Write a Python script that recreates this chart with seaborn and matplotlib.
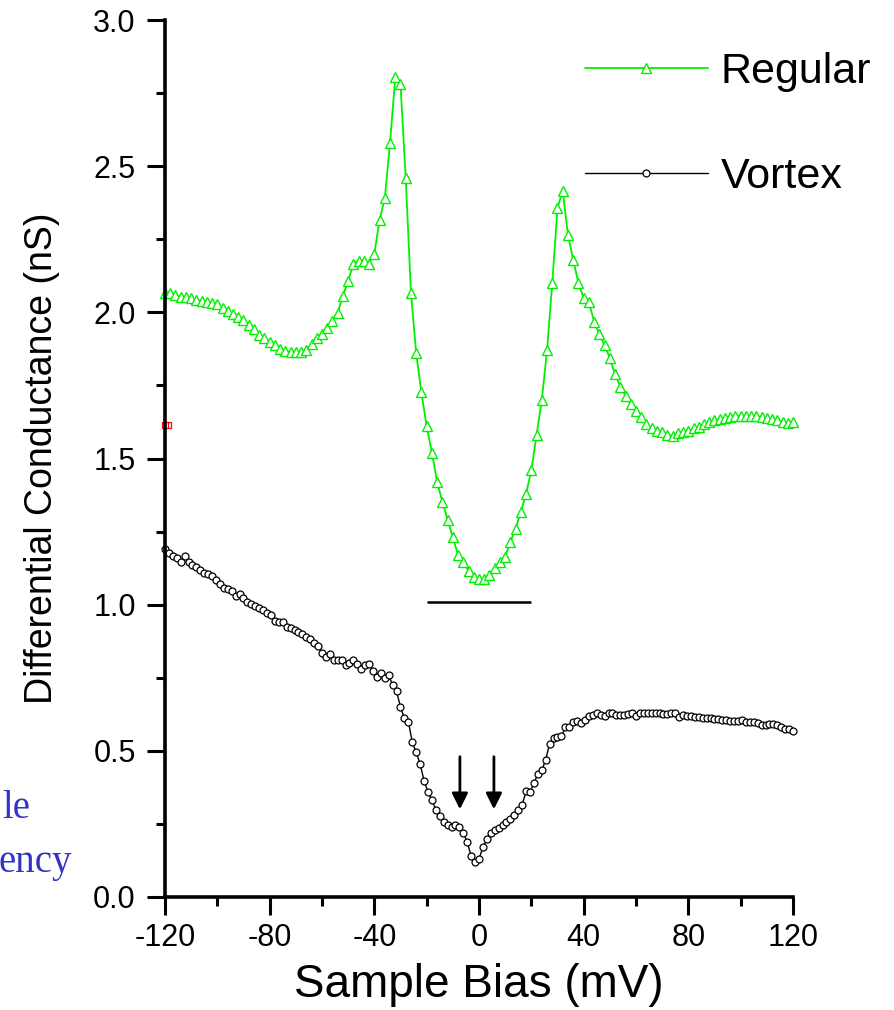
import numpy as np
import matplotlib
matplotlib.use("Agg")
import matplotlib.pyplot as plt
import seaborn as sns

# Regular spectrum, sampled every 2 mV from -120 to 120 mV
regular_g = [
    2.067, 2.067, 2.059, 2.051, 2.051, 2.048, 2.042, 2.039, 2.036, 2.031,
    2.027, 2.016, 2.005, 1.994, 1.985, 1.974, 1.957, 1.942, 1.922, 1.911,
    1.900, 1.888, 1.875, 1.868, 1.865, 1.865, 1.865, 1.871, 1.890, 1.911,
    1.925, 1.945, 1.970, 1.999, 2.056, 2.108, 2.167, 2.177, 2.177, 2.167,
    2.200, 2.316, 2.390, 2.580, 2.804, 2.780, 2.458, 2.065, 1.860, 1.726,
    1.610, 1.520, 1.420, 1.352, 1.290, 1.230, 1.170, 1.145, 1.116, 1.094,
    1.088,
    1.088, 1.100, 1.124, 1.145, 1.164, 1.215, 1.260, 1.318, 1.380, 1.460,
    1.580, 1.700, 1.870, 2.100, 2.358, 2.415, 2.265, 2.180, 2.100, 2.048,
    2.034, 1.968, 1.925, 1.888, 1.843, 1.788, 1.746, 1.714, 1.685, 1.664,
    1.643, 1.617, 1.603, 1.594, 1.590, 1.580, 1.577, 1.586, 1.592, 1.594,
    1.603, 1.609, 1.617, 1.626, 1.632, 1.635, 1.637, 1.643, 1.646, 1.646,
    1.646, 1.645, 1.645, 1.642, 1.638, 1.634, 1.630, 1.626, 1.622, 1.626,
]

# Vortex spectrum, sampled every 1.5 mV from -120 to 120 mV
vortex_g = [
    1.189, 1.178, 1.166, 1.159, 1.147, 1.166, 1.145, 1.136, 1.128, 1.118,
    1.109, 1.104, 1.098, 1.086, 1.070, 1.058, 1.052, 1.046, 1.030, 1.037,
    1.024, 1.010, 1.001, 0.994, 0.988, 0.983, 0.972, 0.965, 0.945, 0.942,
    0.942, 0.923, 0.919, 0.915, 0.907, 0.899, 0.888, 0.884, 0.870, 0.858,
    0.835, 0.822, 0.831, 0.811, 0.811, 0.810, 0.795, 0.801, 0.811, 0.797,
    0.779, 0.794, 0.797, 0.772, 0.752, 0.765, 0.748, 0.758, 0.725, 0.703,
    0.650, 0.611, 0.600, 0.530, 0.495, 0.455, 0.398, 0.358, 0.333, 0.298,
    0.276, 0.255, 0.247, 0.240, 0.246, 0.238, 0.220, 0.188, 0.140, 0.121,
    0.130, 0.170, 0.198, 0.220, 0.230, 0.236, 0.246, 0.256, 0.268, 0.280,
    0.296, 0.315, 0.362, 0.360, 0.389, 0.422, 0.433, 0.470, 0.525, 0.544,
    0.546, 0.550, 0.580, 0.580, 0.600, 0.603, 0.594, 0.605, 0.618, 0.623,
    0.630, 0.621, 0.619, 0.628, 0.629, 0.624, 0.623, 0.623, 0.626, 0.630,
    0.620, 0.630, 0.631, 0.631, 0.631, 0.630, 0.628, 0.627, 0.627, 0.628,
    0.630, 0.617, 0.623, 0.620, 0.618, 0.617, 0.615, 0.611, 0.611, 0.611,
    0.610, 0.609, 0.607, 0.605, 0.603, 0.602, 0.602, 0.604, 0.600, 0.600,
    0.600, 0.594, 0.589, 0.590, 0.591, 0.591, 0.588, 0.581, 0.576, 0.575,
    0.568,
]

bias_regular = np.linspace(-120, 120, len(regular_g))
bias_vortex = np.linspace(-120, 120, len(vortex_g))

# gap marker bar and the two arrows
gap_bar_y = 1.01
gap_bar_x = (-20, 20)
arrow_x = [-7.3, 5.7]
arrow_top, arrow_tip = 0.48, 0.30
stray_point = (-120, 1.615)

x_ticks = [-120, -80, -40, 0, 40, 80, 120]
y_ticks = [0.0, 0.5, 1.0, 1.5, 2.0, 2.5, 3.0]

sns.set_style("ticks")
plt.rcParams['font.family'] = ['Liberation Sans', 'DejaVu Sans']
plt.rcParams['axes.unicode_minus'] = False
plt.rcParams['text.color'] = 'black'
plt.rcParams['axes.labelcolor'] = 'black'
plt.rcParams['xtick.color'] = 'black'
plt.rcParams['ytick.color'] = 'black'

fig = plt.figure(figsize=(8.95, 10.10), dpi=100)
ax = fig.add_axes([165/895, 1 - 897/1010, 628/895, 877/1010])

green = '#00f000'
sns.lineplot(x=bias_regular, y=regular_g, ax=ax, color=green, linewidth=1.3,
             marker='^', markersize=7.5, markerfacecolor='white',
             markeredgecolor=green, markeredgewidth=1.0, clip_on=False,
             label='Regular', errorbar=None)
sns.lineplot(x=bias_vortex, y=vortex_g, ax=ax, color='black', linewidth=1.0,
             marker='o', markersize=5, markerfacecolor='white',
             markeredgecolor='black', markeredgewidth=0.9, clip_on=False,
             label='Vortex', errorbar=None)

ax.hlines(gap_bar_y, gap_bar_x[0], gap_bar_x[1], color='black', linewidth=1.8)
for xa in arrow_x:
    ax.annotate('', xy=(xa, arrow_tip), xytext=(xa, arrow_top),
                arrowprops=dict(arrowstyle='-|>', color='black', lw=2,
                                mutation_scale=24, shrinkA=0, shrinkB=0))
ax.plot([stray_point[0], stray_point[0] + 1.0], [stray_point[1]] * 2, 's',
        markerfacecolor='none', markeredgecolor='red', markersize=4.5,
        markeredgewidth=0.9, clip_on=False)

ax.set_xlim(-120, 120)
ax.set_ylim(0, 3.0)
ax.set_xticks(x_ticks)
ax.set_xticks(np.arange(-100, 120, 40), minor=True)
ax.set_yticks(y_ticks)
ax.set_yticklabels([f'{v:.1f}' for v in y_ticks])
ax.set_yticks(np.arange(0.25, 3.0, 0.5), minor=True)
ax.tick_params(axis='both', which='major', direction='out', length=13,
               width=2.2, labelsize=22, color='black', labelcolor='black')
ax.tick_params(axis='both', which='minor', direction='out', length=6.5,
               width=2.2, color='black')
ax.tick_params(axis='y', which='major', pad=8)
ax.tick_params(axis='x', which='major', pad=6)

sns.despine(ax=ax)
for side in ['left', 'bottom']:
    ax.spines[side].set_linewidth(2.6)
    ax.spines[side].set_color('black')

ax.set_xlabel('Sample Bias (mV)', fontsize=33, labelpad=7)
ax.set_ylabel('Differential Conductance (nS)', fontsize=27, labelpad=24)

leg = ax.legend(loc='upper left', bbox_to_anchor=(585/895, 1 - 52/1010),
                bbox_transform=fig.transFigure, frameon=False, fontsize=31,
                handlelength=2.85, handletextpad=0.3, labelspacing=1.5,
                borderpad=0, borderaxespad=0, markerscale=1.0)
for t in leg.get_texts():
    t.set_color('black')

# fragments of text bleeding in from the left edge of the slide
fig.text(0.002, 1 - 818/1010, 'le', color='#3333cc', fontsize=28,
         family=['Liberation Serif'], va='baseline', ha='left')
fig.text(-0.002, 1 - 872/1010, 'ency', color='#3333cc', fontsize=28,
         family=['Liberation Serif'], va='baseline', ha='left')

fig.savefig('out.png', dpi=100)
